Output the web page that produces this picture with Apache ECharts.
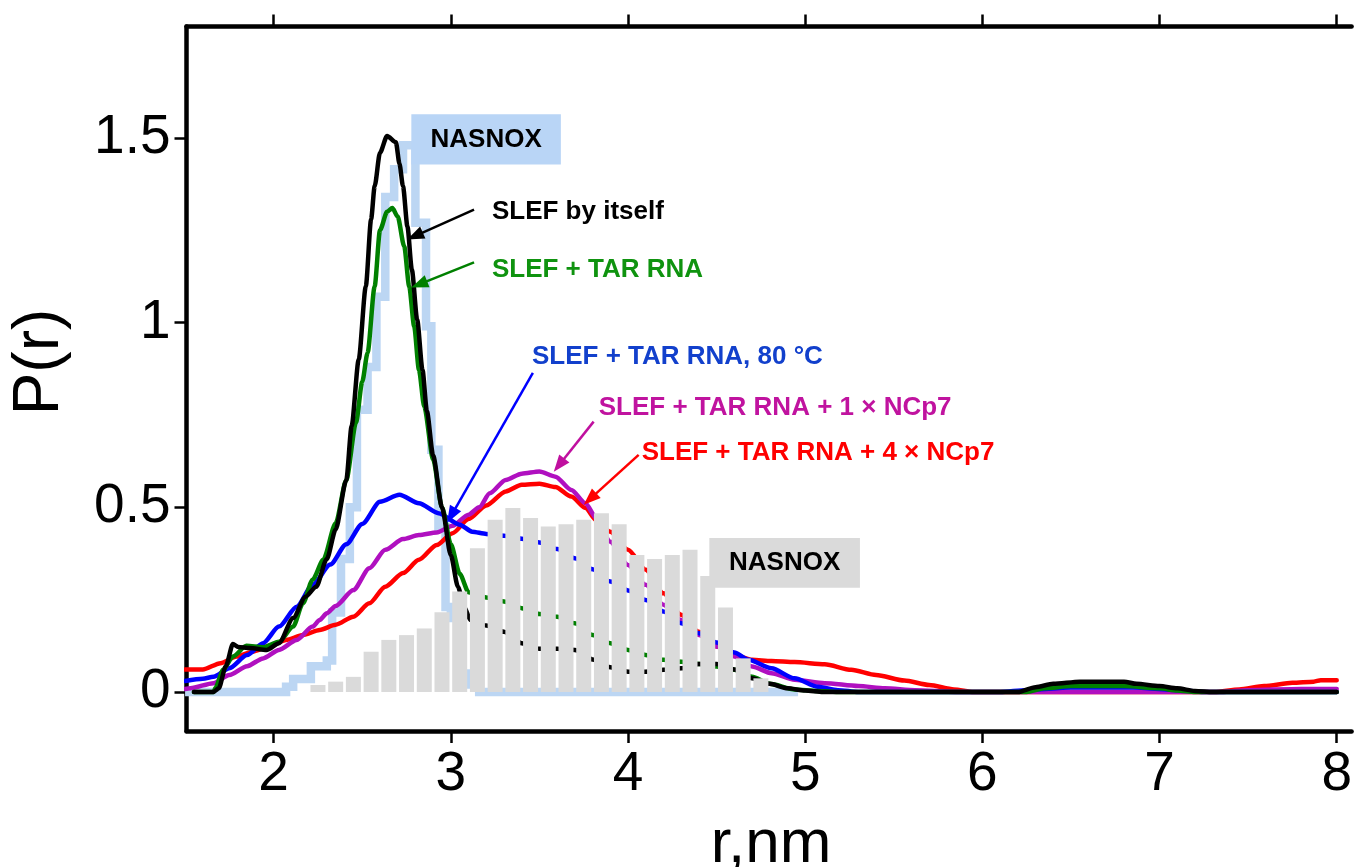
<!DOCTYPE html>
<html><head><meta charset="utf-8">
<script src="https://cdn.jsdelivr.net/npm/echarts@6/dist/echarts.min.js"></script>
<style>html,body{margin:0;padding:0;background:#fff;overflow:hidden}#c{width:1355px;height:867px}</style>
</head><body><div id="c"></div>
<script>
// ---------- data (r in nm, P(r)) ----------
const xTickValues = [2, 3, 4, 5, 6, 7, 8];
const yTickValues = [0, 0.5, 1, 1.5];

const slefAlone = [[1.55,0],[1.66,0],[1.69,0.01],[1.73,0.07],[1.77,0.13],[1.80,0.122],[1.865,0.119],[1.96,0.114],[2.03,0.132],[2.11,0.2],[2.18,0.258],[2.24,0.285],[2.3,0.36],[2.35,0.44],[2.41,0.574],[2.44,0.72],[2.48,0.9],[2.52,1.098],[2.55,1.28],[2.57,1.369],[2.60,1.46],[2.64,1.505],[2.69,1.488],[2.71,1.43],[2.73,1.369],[2.755,1.26],[2.78,1.143],[2.81,1.008],[2.84,0.872],[2.865,0.76],[2.9,0.64],[2.95,0.5],[3.0,0.37],[3.04,0.285],[3.075,0.231],[3.11,0.195],[3.2,0.18],[3.3,0.163],[3.4,0.132],[3.5,0.117],[3.6,0.117],[3.7,0.114],[3.8,0.088],[3.9,0.067],[4.0,0.055],[4.1,0.055],[4.2,0.06],[4.3,0.064],[4.4,0.076],[4.5,0.076],[4.6,0.061],[4.7,0.037],[4.8,0.022],[4.9,0.01],[5.0,0.004],[5.1,0],[6.2,0],[6.3,0.013],[6.4,0.022],[6.55,0.028],[6.8,0.028],[6.87,0.022],[7.0,0.016],[7.1,0.01],[7.2,0.003],[7.3,0],[8.0,0]];

const slefTar = [[1.55,0],[1.66,0],[1.67,0.01],[1.715,0.06],[1.77,0.096],[1.846,0.125],[1.94,0.121],[2.03,0.136],[2.11,0.177],[2.165,0.24],[2.22,0.304],[2.28,0.358],[2.35,0.457],[2.41,0.574],[2.465,0.73],[2.5,0.84],[2.53,0.918],[2.57,1.098],[2.6,1.25],[2.64,1.3],[2.67,1.31],[2.70,1.287],[2.737,1.206],[2.765,1.098],[2.793,0.99],[2.82,0.872],[2.85,0.772],[2.9,0.63],[2.95,0.5],[3.0,0.4],[3.05,0.32],[3.1,0.27],[3.2,0.256],[3.3,0.245],[3.4,0.227],[3.5,0.211],[3.6,0.204],[3.7,0.186],[3.8,0.154],[3.9,0.132],[4.0,0.114],[4.1,0.1],[4.2,0.087],[4.3,0.082],[4.4,0.076],[4.5,0.069],[4.6,0.06],[4.7,0.041],[4.8,0.022],[4.94,0.007],[5.07,0.003],[5.2,0],[6.25,0],[6.35,0.01],[6.5,0.016],[6.8,0.016],[7.0,0.01],[7.1,0.004],[7.2,0],[8.0,0]];

const slefTar80C = [[1.5,0.03],[1.6,0.036],[1.66,0.041],[1.75,0.064],[1.85,0.1],[1.94,0.132],[2.03,0.177],[2.13,0.231],[2.22,0.29],[2.32,0.345],[2.41,0.4],[2.5,0.455],[2.6,0.515],[2.71,0.534],[2.82,0.511],[2.93,0.484],[3.05,0.453],[3.12,0.434],[3.2,0.428],[3.3,0.423],[3.4,0.415],[3.5,0.405],[3.6,0.387],[3.7,0.362],[3.8,0.332],[3.9,0.299],[4.0,0.275],[4.1,0.249],[4.2,0.218],[4.3,0.186],[4.4,0.159],[4.5,0.134],[4.6,0.107],[4.68,0.087],[4.81,0.064],[4.94,0.037],[5.07,0.014],[5.185,0.005],[5.3,0],[6.1,0],[6.25,0.005],[6.5,0.012],[6.85,0.012],[7.1,0.005],[7.25,0],[8.0,0]];

const slefTarNC1 = [[1.5,0.008],[1.53,0.01],[1.66,0.024],[1.75,0.046],[1.85,0.07],[1.94,0.091],[2.03,0.114],[2.13,0.141],[2.22,0.177],[2.26,0.195],[2.3,0.213],[2.35,0.233],[2.45,0.276],[2.54,0.335],[2.63,0.385],[2.73,0.414],[2.82,0.425],[2.92,0.432],[3.01,0.45],[3.1,0.48],[3.16,0.5],[3.22,0.538],[3.31,0.574],[3.4,0.591],[3.5,0.597],[3.59,0.583],[3.68,0.547],[3.76,0.511],[3.82,0.471],[3.9,0.407],[4.0,0.344],[4.1,0.29],[4.2,0.236],[4.3,0.195],[4.4,0.154],[4.5,0.123],[4.6,0.096],[4.7,0.069],[4.81,0.051],[4.94,0.033],[5.11,0.024],[5.3,0.016],[5.45,0.01],[5.62,0.005],[5.85,0],[7.35,0],[7.5,0.005],[7.8,0.008],[8.0,0.008]];

const slefTarNC4 = [[1.5,0.061],[1.6,0.061],[1.7,0.078],[1.79,0.096],[1.88,0.109],[1.98,0.125],[2.07,0.141],[2.165,0.154],[2.26,0.168],[2.35,0.182],[2.45,0.204],[2.54,0.24],[2.63,0.285],[2.73,0.322],[2.82,0.358],[2.92,0.398],[3.01,0.43],[3.1,0.468],[3.2,0.505],[3.31,0.543],[3.4,0.561],[3.5,0.564],[3.59,0.555],[3.68,0.529],[3.76,0.498],[3.82,0.465],[3.9,0.434],[4.0,0.385],[4.1,0.331],[4.2,0.267],[4.3,0.209],[4.4,0.163],[4.5,0.123],[4.6,0.1],[4.7,0.087],[4.81,0.084],[4.94,0.081],[5.11,0.075],[5.26,0.06],[5.4,0.046],[5.56,0.031],[5.7,0.019],[5.84,0.007],[5.95,0],[7.31,0],[7.45,0.007],[7.59,0.016],[7.75,0.025],[7.87,0.028],[7.91,0.032],[8.0,0.032]];

// NASNOX model 1 (step histogram): [left bin edge, value]
const nasnoxSteps = [[1.5,0],[2.07,0.014],[2.11,0.035],[2.21,0.07],[2.3,0.085],[2.33,0.215],[2.38,0.36],[2.43,0.5],[2.47,0.764],[2.53,0.88],[2.58,1.07],[2.63,1.34],[2.68,1.415],[2.73,1.48],[2.8,1.27],[2.86,0.99],[2.89,0.656],[2.93,0.447],[2.97,0.23],[3.0,0.2],[3.05,0.05],[3.1,0.02],[3.16,0],[4.96,0]];

// NASNOX model 2 (bars): [bin centre, value]
const nasnoxBars = [[2.25,0.019],[2.35,0.028],[2.45,0.041],[2.55,0.109],[2.65,0.141],[2.75,0.154],[2.85,0.172],[2.95,0.216],[3.05,0.272],[3.15,0.389],[3.25,0.466],[3.35,0.498],[3.45,0.471],[3.55,0.448],[3.65,0.454],[3.75,0.466],[3.85,0.484],[3.95,0.454],[4.05,0.371],[4.15,0.36],[4.25,0.371],[4.35,0.385],[4.45,0.314],[4.55,0.229],[4.65,0.091],[4.75,0.037]];

// ---------- annotation layout (data coordinates) ----------
const notes = [
  {text:'SLEF by itself', color:'#000000', arrow:'#000000', at:[3.232,1.301], from:[3.131,1.306], to:[2.754,1.225]},
  {text:'SLEF + TAR RNA', color:'#0f930f', arrow:'#008000', at:[3.232,1.144], from:[3.131,1.163], to:[2.777,1.095]},
  {text:'SLEF + TAR RNA, 80 °C', color:'#1240cc', arrow:'#0000ff', at:[3.458,0.908], from:[3.463,0.864], to:[2.979,0.458]},
  {text:'SLEF + TAR RNA + 1 × NCp7', color:'#c0139f', arrow:'#c0109f', at:[3.835,0.770], from:[3.806,0.732], to:[3.581,0.596]},
  {text:'SLEF + TAR RNA + 4 × NCp7', color:'#ff0000', arrow:'#ff0000', at:[4.077,0.648], from:[4.06,0.642], to:[3.75,0.507]}
];
const boxes = [
  {text:'NASNOX', fill:'#b9d5f6', x0:2.777, x1:3.621, y0:1.428, y1:1.564},
  {text:'NASNOX', fill:'#dadada', x0:4.459, x1:5.309, y0:0.282, y1:0.417}
];

const FONT = '"Liberation Sans", Arial, sans-serif';
const chart = echarts.init(document.getElementById('c'), null, {renderer:'canvas'});

function lineSeries(name, data, color, width, z, extra) {
  return Object.assign({
    name, type:'line', data, showSymbol:false, symbol:'none', z,
    lineStyle:{color, width, cap:'round', join:'round'},
    smooth:0.25, smoothMonotone:'x', animation:false
  }, extra || {});
}

const axisCommon = {
  type:'value', min:1.508, max:8.084,
  splitLine:{show:false},
  axisLine:{show:true, onZero:false, lineStyle:{color:'#000', width:4.5}},
  axisTick:{show:true, length:12, inside:false, customValues:xTickValues, lineStyle:{color:'#000', width:2.5}}
};

chart.setOption({
  animation:false,
  backgroundColor:'#ffffff',
  grid:{left:186.5, right:0, top:26.5, bottom:136, containLabel:false},
  xAxis:[
    Object.assign({}, axisCommon, {position:'bottom',
      axisLabel:{show:true, customValues:xTickValues, fontSize:55, color:'#000', fontFamily:FONT, margin:16}}),
    Object.assign({}, axisCommon, {position:'top', axisLabel:{show:false}})
  ],
  yAxis:{
    type:'value', min:-0.1056, max:1.8016, position:'left',
    splitLine:{show:false},
    axisLine:{show:true, onZero:false, lineStyle:{color:'#000', width:4.5}},
    axisTick:{show:true, length:12, customValues:yTickValues, lineStyle:{color:'#000', width:2.5}},
    axisLabel:{show:true, customValues:yTickValues, fontSize:55, color:'#000', fontFamily:FONT, margin:16,
      formatter:v => String(v)}
  },
  series:[
    lineSeries('NASNOX steps', nasnoxSteps, '#bcd6f3', 8, 1, {step:'end', smooth:false, lineStyle:{color:'#bcd6f3', width:8.5, cap:'butt', join:'miter'}}),
    lineSeries('SLEF + TAR RNA + 4 × NCp7', slefTarNC4, '#ff0000', 4.5, 2),
    lineSeries('SLEF + TAR RNA + 1 × NCp7', slefTarNC1, '#b010c0', 4.5, 2),
    lineSeries('SLEF + TAR RNA, 80 °C', slefTar80C, '#0000ff', 4.5, 2),
    lineSeries('SLEF + TAR RNA', slefTar, '#008000', 4.5, 2),
    lineSeries('SLEF by itself', slefAlone, '#000000', 4.5, 2),
    {name:'NASNOX bars', type:'bar', data:nasnoxBars, barWidth:15, z:3,
     itemStyle:{color:'#dadada'}, animation:false}
  ]
});

function px(p){ return chart.convertToPixel({xAxisIndex:0, yAxisIndex:0}, p); }

function buildGraphics() {
  const g = [];
  notes.forEach(n => {
    const a = px(n.from), b = px(n.to);
    const dx = b[0]-a[0], dy = b[1]-a[1], len = Math.hypot(dx, dy);
    const ux = dx/len, uy = dy/len, L = 17, W = 6.5;
    const bx = b[0]-ux*L, by = b[1]-uy*L;
    g.push({type:'line', z:100, shape:{x1:a[0], y1:a[1], x2:bx+ux*2, y2:by+uy*2}, style:{stroke:n.arrow, lineWidth:2.5}});
    g.push({type:'polygon', z:100, shape:{points:[[b[0],b[1]],[bx-uy*W, by+ux*W],[bx+uy*W, by-ux*W]]}, style:{fill:n.arrow}});
    const t = px(n.at);
    g.push({type:'text', z:100, x:t[0], y:t[1], style:{text:n.text, fill:n.color, font:'bold 26px ' + FONT, textAlign:'left', textVerticalAlign:'middle'}});
  });
  boxes.forEach(bx => {
    const p0 = px([bx.x0, bx.y1]), p1 = px([bx.x1, bx.y0]);
    g.push({type:'rect', z:100, shape:{x:p0[0], y:p0[1], width:p1[0]-p0[0], height:p1[1]-p0[1]}, style:{fill:bx.fill}});
    g.push({type:'text', z:101, x:(p0[0]+p1[0])/2, y:(p0[1]+p1[1])/2, style:{text:bx.text, fill:'#000', font:'bold 26px ' + FONT, textAlign:'center', textVerticalAlign:'middle'}});
  });
  g.push({type:'text', z:100, x:40, y:362, rotation:Math.PI/2,
    style:{text:'P(r)', fill:'#000', font:'64px ' + FONT, textAlign:'center', textVerticalAlign:'middle'}});
  g.push({type:'text', z:100, x:771, y:845,
    style:{text:'r,nm', fill:'#000', font:'62px ' + FONT, textAlign:'center', textVerticalAlign:'middle'}});
  return g;
}
chart.setOption({graphic:buildGraphics()});
</script></body></html>
